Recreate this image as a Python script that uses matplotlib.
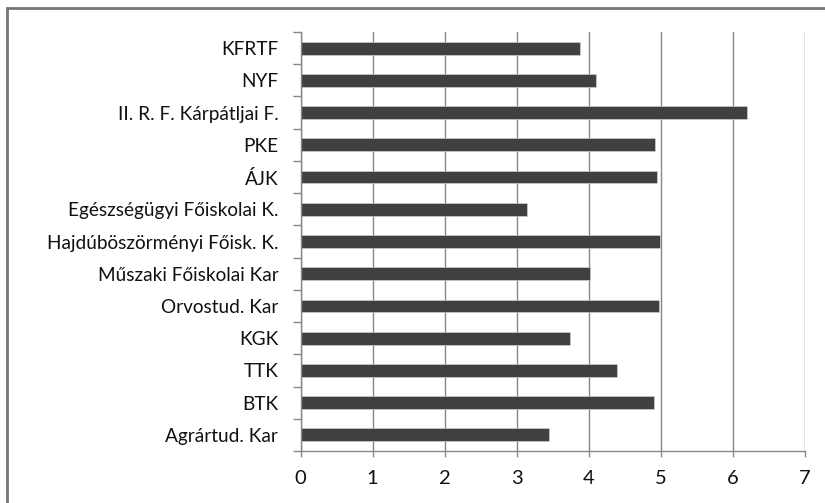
import matplotlib
matplotlib.use("Agg")
import matplotlib.pyplot as plt
from matplotlib.patches import Rectangle
from matplotlib.ticker import FixedLocator

categories = ["KFRTF", "NYF", "II. R. F. Kárpátljai F.", "PKE", "ÁJK",
              "Egészségügyi Főiskolai K.", "Hajdúböszörményi Főisk. K.",
              "Műszaki Főiskolai Kar", "Orvostud. Kar", "KGK", "TTK", "BTK",
              "Agrártud. Kar"]
values = [3.88, 4.10, 6.20, 4.92, 4.94, 3.14, 4.99, 4.02, 4.97, 3.74, 4.39, 4.91, 3.45]
xticks = [0, 1, 2, 3, 4, 5, 6, 7]

W, H = 825, 503
fig = plt.figure(figsize=(W / 100, H / 100), dpi=100)
plt.rcParams['font.family'] = ['Lato', 'DejaVu Sans']

ax = fig.add_axes([300.5 / W, 1 - 451 / H, (805 - 300.5) / W, (451 - 32) / H])

n = len(categories)
ypos = list(range(n))
ax.barh(ypos, values, height=0.4, color="#404040", edgecolor="#d9d9d9", linewidth=0.4, zorder=3)
ax.set_ylim(n - 0.5, -0.5)
ax.set_xlim(0, 7)

ax.set_yticks(ypos)
ax.set_yticklabels(categories, fontsize=13.7, color="#111111")
ax.yaxis.set_minor_locator(FixedLocator([i - 0.5 for i in range(n + 1)]))
ax.tick_params(axis="y", which="major", length=0, pad=16)
ax.tick_params(axis="y", which="minor", length=6, color="#868686", width=1)

ax.set_xticks(xticks)
ax.set_xticklabels([str(t) for t in xticks], fontsize=14.5, color="#111111")
ax.tick_params(axis="x", which="major", length=4.5, color="#868686", width=1, pad=9)

ax.grid(axis="x", color="#868686", linewidth=1, zorder=1)
ax.set_axisbelow(True)
for s in ["top", "right"]:
    ax.spines[s].set_visible(False)
for s in ["left", "bottom"]:
    ax.spines[s].set_color("#868686")
    ax.spines[s].set_linewidth(1)
    ax.spines[s].set_zorder(4)

# outer chart border
fig.patches.append(Rectangle((7 / W, -0.1), 1.2, 1 - 8 / H + 0.1, transform=fig.transFigure,
                             fill=False, edgecolor="#767676", linewidth=2, clip_on=False))

fig.savefig("out.png", dpi=100)
